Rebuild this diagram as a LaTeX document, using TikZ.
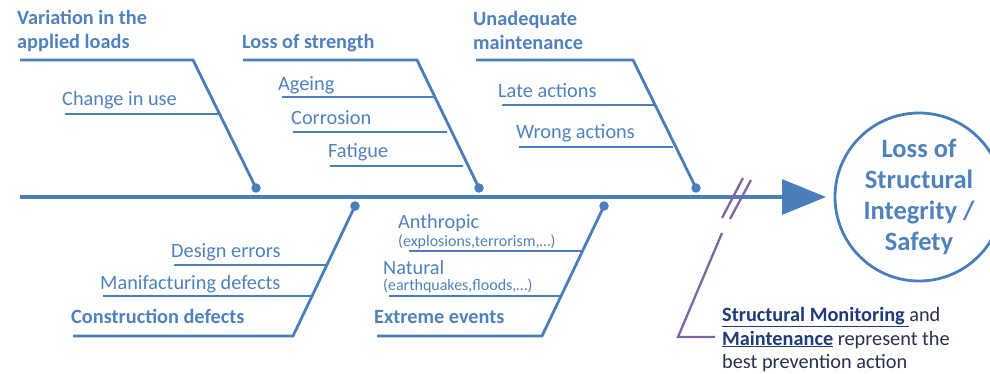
\documentclass[tikz,border=0pt]{standalone}
\usepackage{fontspec}
\setmainfont{Carlito}
\usetikzlibrary{arrows.meta}

\definecolor{fishblue}{HTML}{4A7EBB}
\definecolor{textblue}{HTML}{4F81BD}
\definecolor{notepurple}{HTML}{8064A2}
\definecolor{navy}{HTML}{1F3A78}
\definecolor{notegray}{HTML}{26304F}

\begin{document}
\begin{tikzpicture}[x=1pt,y=-1pt,
  bone/.style={draw=fishblue, line width=3.2pt},
  rib/.style={draw=fishblue, line width=2.8pt},
  sub/.style={draw=fishblue, line width=2.3pt},
  joint/.style={circle, fill=fishblue, inner sep=0pt, minimum size=9.5pt},
  cause/.style={anchor=base west, inner sep=0pt, text=textblue, font=\fontsize{20.3}{24}\selectfont\bfseries},
  factor/.style={anchor=base west, inner sep=0pt, text=textblue, font=\fontsize{20.3}{24}\selectfont},
  detail/.style={anchor=base west, inner sep=0pt, text=textblue, font=\fontsize{16}{19}\selectfont},
  notetext/.style={anchor=base west, inner sep=0pt, text=notegray, font=\fontsize{20.3}{24}\selectfont},
  notemark/.style={draw=notepurple, line width=2.3pt},
]
\useasboundingbox (0,0) rectangle (990,374);

% ---- spine and effect ----
\coordinate (tail) at (20,197);
\coordinate (head) at (826,197);
\node (goal) [circle, draw=fishblue, line width=2.8pt, minimum size=168pt, inner sep=0pt,
  align=center, text=textblue, font=\fontsize{26.5}{31}\selectfont\bfseries]
  at (919,197) {Loss of\\Structural\\Integrity /\\Safety};
\draw[bone, -{Triangle[length=44pt,width=35pt]}] (tail) -- (head);

% ---- upper branch 1: variation in the applied loads ----
\coordinate (a1) at (20,60);
\coordinate (b1) at (193,60);
\node[joint] (j1) at (256,188) {};
\draw[rib] (a1) -- (b1) -- (j1.center);
\node[cause] (c1a) at (17,25) {Variation in the};
\node[cause] (c1b) at (17,49) {applied loads};
\coordinate (r1s) at (65,114);
\coordinate (r1e) at (220,114);
\draw[sub] (r1s) -- (r1e);
\node[factor] (f1) at (62,106) {Change in use};

% ---- upper branch 2: loss of strength ----
\coordinate (a2) at (243,60);
\coordinate (b2) at (417,60);
\node[joint] (j2) at (479,188) {};
\draw[rib] (a2) -- (b2) -- (j2.center);
\node[cause] (c2) at (242,49) {Loss of strength};
\coordinate (r2s) at (282,97);
\coordinate (r2e) at (435,97);
\draw[sub] (r2s) -- (r2e);
\node[factor] (f2) at (278,91) {Ageing};
\coordinate (r3s) at (293,132);
\coordinate (r3e) at (447,132);
\draw[sub] (r3s) -- (r3e);
\node[factor] (f3) at (291,125) {Corrosion};
\coordinate (r4s) at (330,166);
\coordinate (r4e) at (463,166);
\draw[sub] (r4s) -- (r4e);
\node[factor] (f4) at (328,158) {Fatigue};

% ---- upper branch 3: unadequate maintenance ----
\coordinate (a3) at (476,60);
\coordinate (b3) at (633,60);
\node[joint] (j3) at (696,188) {};
\draw[rib] (a3) -- (b3) -- (j3.center);
\node[cause] (c3a) at (473,26) {Unadequate};
\node[cause] (c3b) at (473,50) {maintenance};
\coordinate (r5s) at (502,105);
\coordinate (r5e) at (654,105);
\draw[sub] (r5s) -- (r5e);
\node[factor] (f5) at (498,98) {Late actions};
\coordinate (r6s) at (519,147);
\coordinate (r6e) at (673,147);
\draw[sub] (r6s) -- (r6e);
\node[factor] (f6) at (516,139) {Wrong actions};

% ---- lower branch 1: construction defects ----
\node[joint] (j4) at (355,206) {};
\coordinate (b4) at (293,336);
\coordinate (a4) at (73,336);
\draw[rib] (j4.center) -- (b4) -- (a4);
\node[cause] (c4) at (71,323) {Construction defects};
\coordinate (r7s) at (174,265);
\coordinate (r7e) at (327,265);
\draw[sub] (r7s) -- (r7e);
\node[factor] (f7) at (171,257) {Design errors};
\coordinate (r8s) at (103,296);
\coordinate (r8e) at (312,296);
\draw[sub] (r8s) -- (r8e);
\node[factor] (f8) at (100,289) {Manifacturing defects};

% ---- lower branch 2: extreme events ----
\node[joint] (j5) at (604,206) {};
\coordinate (b5) at (542,336);
\coordinate (a5) at (377,336);
\draw[rib] (j5.center) -- (b5) -- (a5);
\node[cause] (c5) at (374,323) {Extreme events};
\coordinate (r9s) at (409,251);
\coordinate (r9e) at (583,251);
\draw[sub] (r9s) -- (r9e);
\node[factor] (f9) at (398,229) {Anthropic};
\node[detail] (g9) at (398,246) {(explosions,terrorism,…)};
\coordinate (r10s) at (389,296);
\coordinate (r10e) at (561,296);
\draw[sub] (r10s) -- (r10e);
\node[factor] (f10) at (383,274) {Natural};
\node[detail] (g10) at (383,290) {(earthquakes,floods,…)};

% ---- break marks and note ----
\coordinate (s1a) at (722,218);
\coordinate (s1b) at (743,178);
\coordinate (s2a) at (730,219);
\coordinate (s2b) at (751,180);
\draw[notemark] (s1a) -- (s1b);
\draw[notemark] (s2a) -- (s2b);
\coordinate (p1) at (722,233);
\coordinate (p2) at (678,337);
\coordinate (p3) at (715,337);
\draw[notemark] (p1) -- (p2) -- (p3);
\node[notetext] (n1) at (722,321) {{\bfseries\color{navy}\underline{Structural Monitoring\ }}and};
\node[notetext] (n2) at (722,345) {{\bfseries\color{navy}\underline{Maintenance}} represent\ the};
\node[notetext] (n3) at (722,368) {best prevention action};
\end{tikzpicture}
\end{document}
